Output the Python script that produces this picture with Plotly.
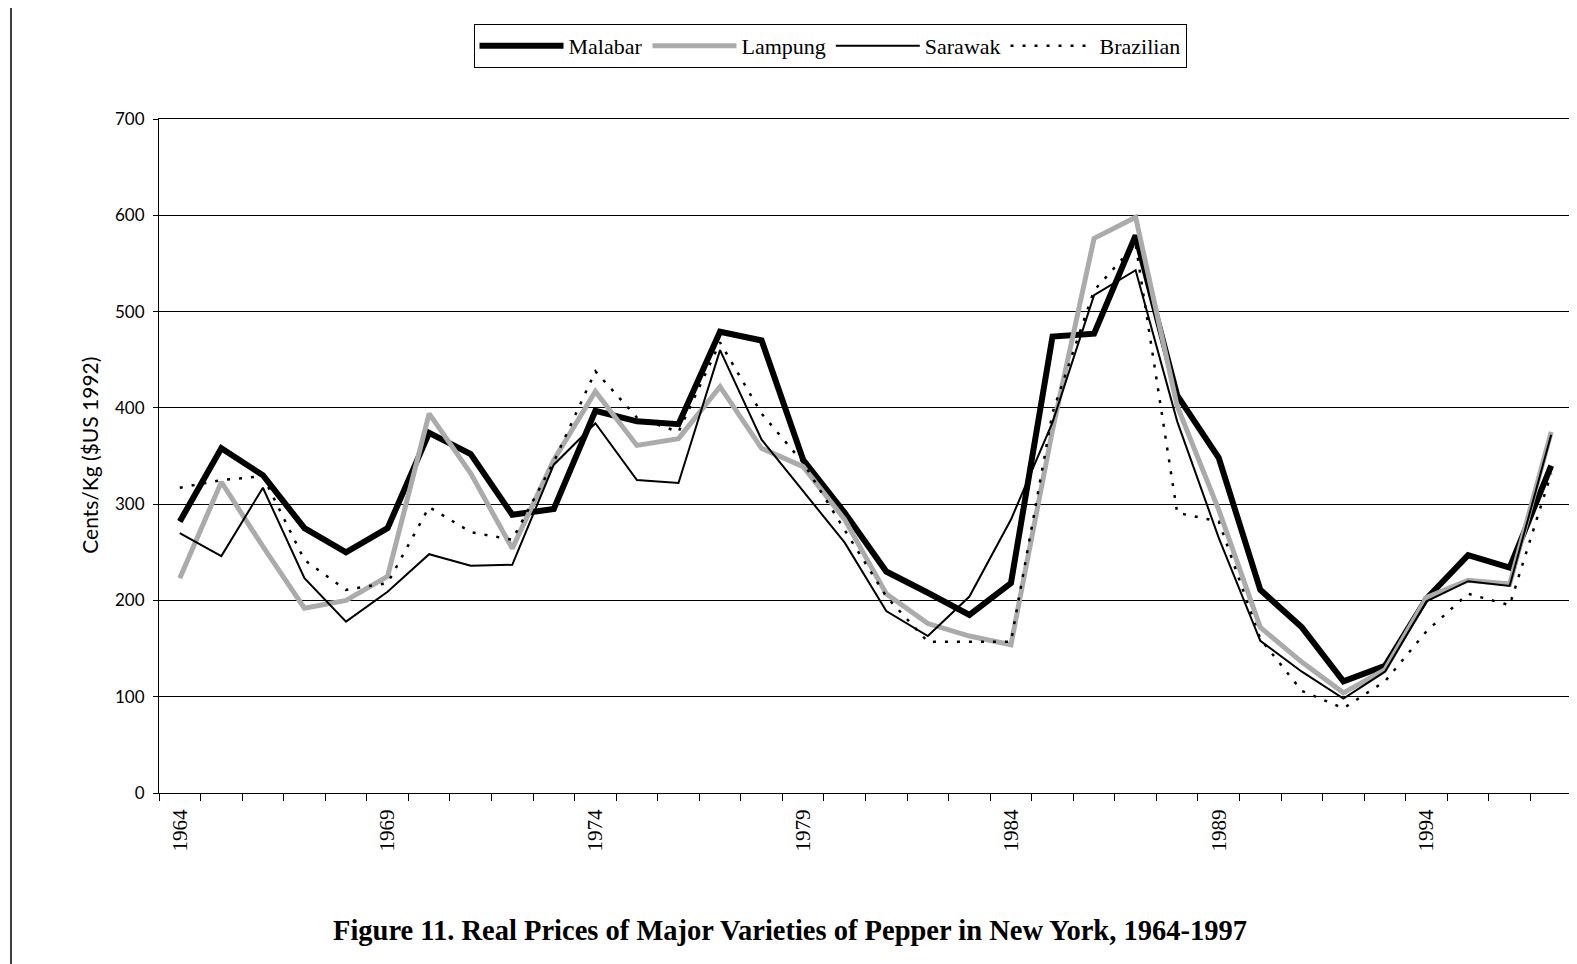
import plotly.graph_objects as go

years = list(range(1964, 1998))

malabar = [282, 358, 330, 275, 250, 275, 374, 352, 289, 295, 397, 386, 383, 479, 470, 346, 291, 230,
           208, 185, 218, 474, 477, 579, 413, 348, 211, 172, 116, 132, 202, 247, 234, 340]
lampung = [223, 323, 256, 192, 200, 225, 394, 332, 254, 346, 417, 361, 368, 422, 358, 339, 284, 207,
           176, 163, 154, 377, 576, 598, 402, 294, 172, 136, 104, 128, 203, 221, 217, 375]
sarawak = [270, 246, 317, 223, 178, 209, 248, 236, 237, 341, 384, 325, 322, 460, 367, 314, 260, 189,
           163, 204, 284, 385, 517, 543, 386, 265, 158, 126, 98, 126, 199, 220, 215, 372]
brazilian = [317, 325, 329, 242, 211, 218, 297, 271, 263, 344, 438, 390, 375, 468, 394, 343, 273, 204,
             157, 157, 157, 395, 522, 570, 291, 282, 160, 106, 88, 116, 168, 207, 195, 332]

label_years = [1964, 1969, 1974, 1979, 1984, 1989, 1994]
y_ticks = [0, 100, 200, 300, 400, 500, 600, 700]

fig = go.Figure()
fig.add_trace(go.Scatter(x=years, y=malabar, name="Malabar", mode="lines",
                         line=dict(color="black", width=6)))
fig.add_trace(go.Scatter(x=years, y=lampung, name="Lampung", mode="lines",
                         line=dict(color="#ababab", width=5)))
fig.add_trace(go.Scatter(x=years, y=sarawak, name="Sarawak", mode="lines",
                         line=dict(color="black", width=2)))
fig.add_trace(go.Scatter(x=years, y=brazilian, name="Brazilian", mode="lines",
                         line=dict(color="black", width=2.5, dash="3px,9px")))

# the page body adds an 8px offset; positions below are in figure coordinates
OFF = 8
L, R, T, B = 159 - OFF, 1572 - OFF, 119 - OFF, 793.5 - OFF
W, H = 1577, 964

fig.update_layout(
    width=W, height=H,
    margin=dict(l=L, r=W - R, t=T, b=H - B, autoexpand=False),
    paper_bgcolor="white", plot_bgcolor="white",
    showlegend=True,
    legend=dict(
        orientation="h", traceorder="normal",
        xref="container", yref="container",
        x=(830 - OFF) / W, xanchor="center", y=1 - (24 - OFF) / H, yanchor="top",
        bordercolor="black", borderwidth=1, bgcolor="white",
        font=dict(family="Liberation Serif", size=22, color="black"),
        itemwidth=84, tracegroupgap=0,
    ),
    xaxis=dict(
        type="linear", range=[1963.5, 1997.5],
        tickmode="array", tickvals=label_years, ticktext=[str(y) for y in label_years],
        ticks="", tickangle=-90, ticklabelstandoff=7,
        tickfont=dict(family="Liberation Serif", size=21, color="black"),
        showgrid=False, zeroline=False,
        showline=True, linecolor="black", linewidth=1, mirror=True,
        minor=dict(tickmode="linear", tick0=1963.5, dtick=1, ticks="outside",
                   ticklen=7, tickcolor="black", tickwidth=1, showgrid=False),
    ),
    yaxis=dict(
        range=[0, 700], tickmode="array", tickvals=y_ticks,
        ticks="outside", ticklen=5, tickcolor="black",
        tickfont=dict(family="Lato", size=17, color="black"),
        ticklabelstandoff=5,
        showgrid=True, gridcolor="black", gridwidth=1,
        zeroline=False,
        showline=True, linecolor="black", linewidth=1, mirror=True,
    ),
)

fig.add_annotation(
    text="Cents/Kg ($US 1992)", textangle=-90,
    xref="paper", yref="paper",
    x=(90 - OFF - L) / (R - L), y=(B - (456 - OFF)) / (B - T),
    showarrow=False, xanchor="center", yanchor="middle",
    font=dict(family="Lato", size=21, color="black"),
)
fig.add_annotation(
    text="<b>Figure 11. Real Prices of Major Varieties of Pepper in New York, 1964-1997</b>",
    xref="paper", yref="paper",
    x=(790 - OFF - L) / (R - L), y=(B - (931 - OFF)) / (B - T),
    showarrow=False, xanchor="center", yanchor="middle",
    font=dict(family="Liberation Serif", size=28.5, color="black"),
)
# page frame line at the left
fig.add_shape(type="line", xref="paper", yref="paper",
              x0=(11 - OFF - L) / (R - L), x1=(11 - OFF - L) / (R - L),
              y0=(B + OFF) / (B - T), y1=(B - H) / (B - T),
              line=dict(color="black", width=1.5))

fig.write_html("out.html")
